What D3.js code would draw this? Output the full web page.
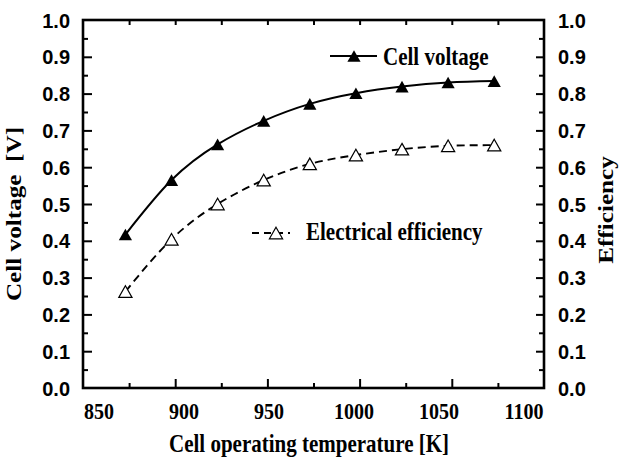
<!DOCTYPE html>
<html>
<head>
<meta charset="utf-8">
<script src="https://cdn.jsdelivr.net/npm/d3@7"></script>
<style>
  html, body { margin: 0; padding: 0; background: #fff; }
  svg { display: block; }
  text { white-space: pre; }
</style>
</head>
<body>
<script>
// ---- data ----
const temperatures = [873, 898, 923, 948, 973, 998, 1023, 1048, 1073];
const cellVoltage = [0.417, 0.565, 0.662, 0.726, 0.772, 0.801, 0.819, 0.830, 0.834];
const efficiency = [0.262, 0.404, 0.500, 0.565, 0.609, 0.633, 0.649, 0.658, 0.660];
const xTickLabels = [850, 900, 950, 1000, 1050, 1100];
const yTickLabels = [0.0, 0.1, 0.2, 0.3, 0.4, 0.5, 0.6, 0.7, 0.8, 0.9, 1.0];
const seriesNames = ["Cell voltage", "Electrical efficiency"];
const xTitle = "Cell operating temperature [K]";
const yLeftTitle = "Cell voltage  [V]";
const yRightTitle = "Efficiency";

// ---- layout ----
const W = 619, H = 459;
const L = 83, R = 544, T = 20, B = 388;
const serif = "'Liberation Serif', 'Times New Roman', serif";
const sans = "'Liberation Sans', Arial, sans-serif";
const SY = 1.2; // vertical stretch of the original figure

const svg = d3.select("body").append("svg").attr("width", W).attr("height", H);

const x = d3.scaleLinear().domain([850, 1100]).range([L, R]);
const xLab = d3.scaleLinear().domain([850, 1100]).range([99, 524]);
const y = d3.scaleLinear().domain([0, 1]).range([B, T]);

function txt(g, px, py, s, o) {
  return g.append("text")
    .attr("transform", `translate(${px},${py}) rotate(${o.rot || 0}) scale(${o.sx || 1},${o.sy || 1})`)
    .attr("font-family", o.family)
    .attr("font-weight", "bold")
    .attr("font-size", o.size)
    .attr("text-anchor", o.anchor || "start")
    .attr("fill", "#000")
    .text(s);
}

// ---- ticks (inward) ----
const ticks = svg.append("g");
const xMinor = d3.range(875, 1100, 25);
ticks.append("g").attr("transform", `translate(0,${B})`)
  .call(d3.axisBottom(x).tickValues(xMinor).tickSize(-5).tickFormat(""))
  .call(g => g.select(".domain").remove())
  .call(g => g.selectAll("line").attr("stroke-width", 2)
    .attr("y2", d => (d % 50 === 0 ? -9 : -5)));
ticks.append("g").attr("transform", `translate(0,${T})`)
  .call(d3.axisTop(x).tickValues(xMinor).tickSize(-5).tickFormat(""))
  .call(g => g.select(".domain").remove())
  .call(g => g.selectAll("line").attr("stroke-width", 2));
const yMinor = d3.range(1, 20).map(i => i * 0.05);
ticks.append("g").attr("transform", `translate(${L},0)`)
  .call(d3.axisLeft(y).tickValues(yMinor).tickSize(-5).tickFormat(""))
  .call(g => g.select(".domain").remove())
  .call(g => g.selectAll("line").attr("stroke-width", 2)
    .attr("x2", (d, i) => (i % 2 === 1 ? 9 : 5)));
ticks.append("g").attr("transform", `translate(${R},0)`)
  .call(d3.axisRight(y).tickValues(yMinor).tickSize(-5).tickFormat(""))
  .call(g => g.select(".domain").remove())
  .call(g => g.selectAll("line").attr("stroke-width", 2)
    .attr("x2", (d, i) => (i % 2 === 1 ? -8 : -5)));

// frame
svg.append("rect").attr("x", L).attr("y", T).attr("width", R - L).attr("height", B - T)
  .attr("fill", "none").attr("stroke", "#000").attr("stroke-width", 2.6);

// ---- tick labels ----
const lab = svg.append("g");
xTickLabels.forEach(v => txt(lab, xLab(v), 419, v, { family: serif, size: 20, anchor: "middle", sy: SY }));
yTickLabels.forEach(v => {
  txt(lab, 70, y(v) + 7.5, v.toFixed(1), { family: sans, size: 20, anchor: "end", sy: 1.05 });
  txt(lab, 558, y(v) + 7.5, v.toFixed(1), { family: sans, size: 20, anchor: "start", sy: 1.05 });
});

// ---- titles ----
txt(lab, 309, 452, xTitle, { family: serif, size: 21, anchor: "middle", sy: SY });
txt(lab, 21, 214, yLeftTitle, { family: serif, size: 21, anchor: "middle", rot: -90, sx: SY });
txt(lab, 613, 210, yRightTitle, { family: serif, size: 21, anchor: "middle", rot: -90, sx: SY });

// ---- series ----
const tri = "M0,-5.8L6.6,5.8L-6.6,5.8Z";
const line = d3.line().x(d => x(d[0])).y(d => y(d[1])).curve(d3.curveNatural);
const cvData = temperatures.map((t, i) => [t, cellVoltage[i]]);
const efData = temperatures.map((t, i) => [t, efficiency[i]]);

svg.append("path").attr("d", line(cvData)).attr("fill", "none")
  .attr("stroke", "#000").attr("stroke-width", 2);
svg.append("path").attr("d", line(efData)).attr("fill", "none")
  .attr("stroke", "#000").attr("stroke-width", 1.9).attr("stroke-dasharray", "8,5");

svg.append("g").selectAll("path").data(cvData).join("path")
  .attr("transform", d => `translate(${x(d[0])},${y(d[1])})`)
  .attr("d", tri).attr("fill", "#000");
svg.append("g").selectAll("path").data(efData).join("path")
  .attr("transform", d => `translate(${x(d[0])},${y(d[1])})`)
  .attr("d", tri).attr("fill", "#fff").attr("stroke", "#000").attr("stroke-width", 1.2);

// ---- legend ----
const lg = svg.append("g");
lg.append("line").attr("x1", 330).attr("x2", 377).attr("y1", 56).attr("y2", 56)
  .attr("stroke", "#000").attr("stroke-width", 2);
lg.append("path").attr("transform", "translate(354,56)").attr("d", tri).attr("fill", "#000");
txt(lg, 383, 65, seriesNames[0], { family: serif, size: 21, sy: SY });

lg.append("line").attr("x1", 252).attr("x2", 290).attr("y1", 233).attr("y2", 233)
  .attr("stroke", "#000").attr("stroke-width", 1.9).attr("stroke-dasharray", "7,5");
lg.append("path").attr("transform", "translate(276,233)").attr("d", tri)
  .attr("fill", "#fff").attr("stroke", "#000").attr("stroke-width", 1.2);
txt(lg, 306, 240, seriesNames[1], { family: serif, size: 21, sy: SY });
</script>
</body>
</html>
